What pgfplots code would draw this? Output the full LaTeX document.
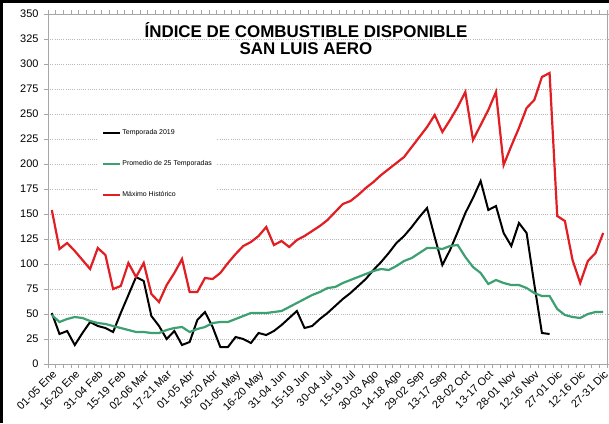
\documentclass[border=0pt]{standalone}
\usepackage{fontspec}
\setmainfont{Liberation Sans}
\usepackage{pgfplots}
\usepackage{pgfplotstable}
\pgfplotsset{compat=1.18}
\definecolor{cred}{RGB}{225,30,35}
\definecolor{cgreen}{RGB}{60,160,115}

\pgfplotstableread{
i v
0 51
1 30
2 33
3 19
4 31
5 42
6 38
7 36
8 32
9 51
10 69
11 87
12 83
13 48
14 38
15 25
16 33
17 19
18 22
19 44
20 52
21 37
22 17
23 17
24 27
25 25
26 21
27 31
28 29
29 33
30 39
31 46
32 53
33 36
34 38
35 45
36 51
37 58
38 65
39 71
40 78
41 85
42 94
43 102
44 111
45 121
46 128
47 137
48 147
49 156
50 127
51 99
52 114
53 132
54 151
55 166
56 183
57 154
58 158
59 131
60 118
61 141
62 131
63 80
64 31
65 30
}\tblack

\pgfplotstableread{
i v
0 49
1 42
2 45
3 47
4 46
5 43
6 41
7 40
8 38
9 36
10 34
11 32
12 32
13 31
14 31
15 34
16 36
17 37
18 32
19 35
20 37
21 41
22 42
23 42
24 45
25 48
26 51
27 51
28 51
29 52
30 53
31 57
32 61
33 65
34 69
35 72
36 76
37 77
38 81
39 84
40 87
41 90
42 93
43 95
44 94
45 98
46 103
47 106
48 111
49 116
50 116
51 115
52 118
53 119
54 107
55 97
56 91
57 80
58 84
59 81
60 79
61 79
62 76
63 71
64 68
65 68
66 55
67 49
68 47
69 46
70 50
71 52
72 52
}\tgreen

\pgfplotstableread{
i v
0 154
1 115
2 121
3 113
4 104
5 95
6 116
7 109
8 75
9 78
10 101
11 87
12 101
13 70
14 62
15 79
16 91
17 105
18 72
19 72
20 86
21 85
22 91
23 101
24 110
25 118
26 122
27 128
28 137
29 119
30 123
31 117
32 124
33 128
34 133
35 138
36 144
37 152
38 160
39 163
40 169
41 176
42 182
43 189
44 195
45 201
46 207
47 217
48 227
49 237
50 249
51 232
52 244
53 257
54 272
55 224
56 239
57 254
58 272
59 199
60 218
61 236
62 256
63 264
64 287
65 291
66 148
67 143
68 104
69 81
70 103
71 111
72 131
}\tred

\begin{document}
\begin{tikzpicture}[x=1bp,y=1bp]
\useasboundingbox (0,0) rectangle (609,423);
\fill[white] (0,0) rectangle (609,423);
\begin{axis}[
  at={(48bp,59bp)}, anchor=south west,
  scale only axis, width=559bp, height=350bp,
  xmin=-0.5, xmax=72.5, ymin=0, ymax=350,
  ytick={0,25,...,350},
  xtick={0,3,...,72},
  xticklabels={01-05 Ene, 16-20 Ene, 31-04 Feb, 15-19 Feb, 02-06 Mar, 17-21 Mar, 01-05 Abr, 16-20 Abr, 01-05 May, 16-20 May, 31-04 Jun, 15-19 Jun, 30-04 Jul, 15-19 Jul, 30-03 Ago, 14-18 Ago, 29-02 Sep, 13-17 Sep, 28-02 Oct, 13-17 Oct, 28-01 Nov, 12-16 Nov, 27-01 Dic, 12-16 Dic, 27-31 Dic},
  minor xtick={-0.5,0.5,...,72.5},
  /pgf/number format/assume math mode=true,
  tick align=outside,
  major tick length=4bp, minor tick length=4bp,
  major x tick style={draw=none},
  minor x tick style={gray!70, line width=0.6bp},
  major y tick style={gray!70, line width=0.6bp},
  axis line style={gray!70, line width=0.6bp},
  ymajorgrids,
  grid style={gray!55, line width=0.6bp, dash pattern=on 1bp off 1.2bp},
  yticklabel style={font=\fontsize{11}{12}\selectfont, xshift=-2bp},
  xticklabel style={font=\fontsize{11}{12}\selectfont, rotate=45, anchor=north east, inner sep=1bp},
  legend style={at={(rel axis cs:0.0894,0.694)}, anchor=north west, draw=none, fill=white,
    inner xsep=4bp, inner ysep=7bp, row sep=22bp,
    font=\fontsize{7}{8}\selectfont,
    nodes={inner sep=1bp, text height=5.5bp, text depth=1.5bp}},
  legend cell align=left,
]
\addplot[black, line width=2bp] table[x=i,y=v] {\tblack};
\addlegendentry{Temporada 2019}
\addplot[cgreen, line width=2.2bp] table[x=i,y=v] {\tgreen};
\addlegendentry{Promedio de 25 Temporadas}
\addplot[cred, line width=2.2bp] table[x=i,y=v] {\tred};
\addlegendentry{Máximo Histórico}
\end{axis}
\node[align=center, font=\fontsize{17}{17}\selectfont\bfseries] at (306,384.5) {ÍNDICE DE COMBUSTIBLE  DISPONIBLE\\SAN LUIS AERO};
\draw[black, line width=3bp] (1.5,0) -- (1.5,421.5) -- (609,421.5);
\end{tikzpicture}
\end{document}
